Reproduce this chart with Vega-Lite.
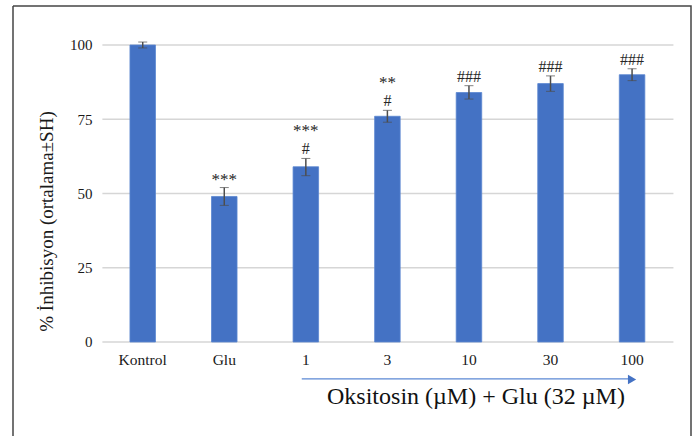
{
  "$schema": "https://vega.github.io/schema/vega-lite/v6.json",
  "width": 678,
  "height": 430,
  "autosize": {"type": "none"},
  "padding": {"left": 13, "top": 6, "right": 5, "bottom": 0},
  "background": "white",
  "config": {
    "view": {"stroke": "#454545", "strokeWidth": 1.5, "strokeDash": [1108, 678, 430, 0]},
    "font": "Liberation Serif",
    "axis": {"labelFont": "Liberation Serif", "titleFont": "Liberation Serif", "labelColor": "#1a1a1a", "titleColor": "#1a1a1a"}
  },
  "datasets": {
    "bars": [
      {"group": "Kontrol", "mean": 100, "lo": 99, "hi": 101, "star": "", "hash": ""},
      {"group": "Glu", "mean": 49, "lo": 46, "hi": 52, "star": "***", "hash": ""},
      {"group": "1", "mean": 59, "lo": 56, "hi": 61.8, "star": "***", "hash": "#"},
      {"group": "3", "mean": 76, "lo": 74, "hi": 78, "star": "**", "hash": "#"},
      {"group": "10", "mean": 84, "lo": 81.8, "hi": 86.3, "star": "", "hash": "###"},
      {"group": "30", "mean": 87, "lo": 84.4, "hi": 89.6, "star": "", "hash": "###"},
      {"group": "100", "mean": 90, "lo": 88, "hi": 92, "star": "", "hash": "###"}
    ],
    "grid": [{"v": 0}, {"v": 25}, {"v": 50}, {"v": 75}, {"v": 100}]
  },
  "layer": [
    {
      "data": {"name": "grid"},
      "mark": {"type": "rule", "color": "#d6d6d6", "strokeWidth": 1.5},
      "encoding": {
        "y": {"field": "v", "type": "quantitative",
              "scale": {"domain": [-31.65, 113.13], "nice": false, "zero": false},
              "axis": {"values": [0, 25, 50, 75, 100], "grid": false, "domain": false, "ticks": false,
                       "labelFontSize": 15, "labelPadding": 14, "offset": -93,
                       "title": "% İnhibisyon (ortalama±SH)", "titleFontSize": 19, "titleFontWeight": "normal", "titlePadding": 13}},
        "x": {"datum": "Kontrol", "bandPosition": -1.08, "type": "nominal",
              "scale": {"domain": ["Kontrol", "Glu", "1", "3", "10", "30", "100"], "paddingInner": 0.687, "paddingOuter": 1.038, "align": 0.717},
              "axis": {"title": null, "labelAngle": 0, "domain": false, "ticks": false, "labelFontSize": 15.5, "labelPadding": 10, "offset": -94}},
        "x2": {"datum": "100", "bandPosition": 2.12}
      }
    },
    {
      "data": {"name": "bars"},
      "mark": {"type": "bar", "color": "#4472C4", "stroke": "#5a86d0", "strokeWidth": 0.8},
      "encoding": {
        "x": {"field": "group", "type": "nominal", "sort": null},
        "y": {"field": "mean", "type": "quantitative", "title": "% İnhibisyon (ortalama±SH)"}
      }
    },
    {
      "data": {"name": "bars"},
      "mark": {"type": "errorbar", "ticks": {"size": 9, "color": "#4d4d4d", "strokeWidth": 1.5}, "rule": {"color": "#4d4d4d", "strokeWidth": 1.5}},
      "encoding": {
        "x": {"field": "group", "type": "nominal", "sort": null},
        "y": {"field": "lo", "type": "quantitative", "title": "% İnhibisyon (ortalama±SH)"},
        "y2": {"field": "hi"}
      }
    },
    {
      "data": {"name": "bars"},
      "mark": {"type": "text", "fontSize": 16, "color": "#262626", "baseline": "alphabetic", "dy": -4},
      "encoding": {
        "x": {"field": "group", "type": "nominal", "sort": null},
        "y": {"field": "hi", "type": "quantitative", "title": "% İnhibisyon (ortalama±SH)"},
        "text": {"field": "hash"}
      }
    },
    {
      "data": {"name": "bars"},
      "transform": [{"filter": "datum.hash === ''"}],
      "mark": {"type": "text", "fontSize": 17, "color": "#262626", "baseline": "alphabetic", "dy": -3},
      "encoding": {
        "x": {"field": "group", "type": "nominal", "sort": null},
        "y": {"field": "hi", "type": "quantitative", "title": "% İnhibisyon (ortalama±SH)"},
        "text": {"field": "star"}
      }
    },
    {
      "data": {"name": "bars"},
      "transform": [{"filter": "datum.hash !== ''"}],
      "mark": {"type": "text", "fontSize": 17, "color": "#262626", "baseline": "alphabetic", "dy": -22},
      "encoding": {
        "x": {"field": "group", "type": "nominal", "sort": null},
        "y": {"field": "hi", "type": "quantitative", "title": "% İnhibisyon (ortalama±SH)"},
        "text": {"field": "star"}
      }
    },
    {
      "data": {"values": [{"a": 1}]},
      "mark": {"type": "rule", "color": "#5b88d4", "strokeWidth": 1.2},
      "encoding": {
        "x": {"datum": "1", "bandPosition": 0.34},
        "x2": {"datum": "100", "bandPosition": 0.35},
        "y": {"datum": -12.4}
      }
    },
    {
      "data": {"values": [{"a": 1}]},
      "mark": {"type": "point", "shape": "triangle-right", "filled": true, "color": "#4472C4", "size": 90, "opacity": 1},
      "encoding": {
        "x": {"datum": "100", "bandPosition": 0.5},
        "y": {"datum": -12.6}
      }
    },
    {
      "data": {"values": [{"label": "Oksitosin (µM) + Glu (32 µM)"}]},
      "mark": {"type": "text", "fontSize": 24, "color": "#111111", "baseline": "alphabetic", "align": "center", "dx": 7},
      "encoding": {
        "x": {"datum": "10"},
        "y": {"datum": -20.9},
        "text": {"field": "label"}
      }
    }
  ]
}
